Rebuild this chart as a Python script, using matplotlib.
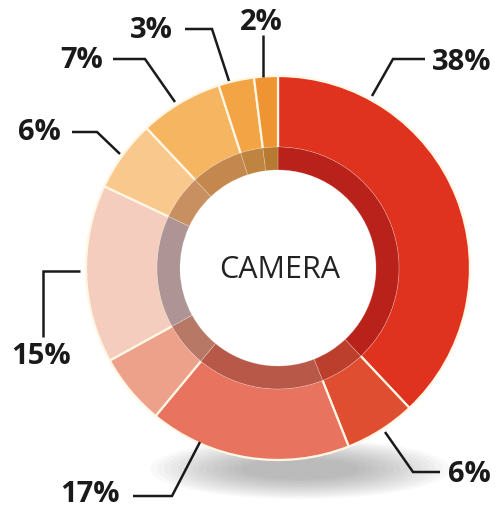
import matplotlib
matplotlib.use("Agg")
import matplotlib.pyplot as plt
from matplotlib.patches import Ellipse

# ---- data ----
labels = ["38%", "6%", "17%", "", "15%", "6%", "7%", "3%", "2%"]
values = [38, 6, 17, 6, 15, 6, 7, 3, 2]
outer_colors = ["#E0331F", "#E04E32", "#E8735E", "#EDA08A", "#F4CDBE",
                "#F9C88C", "#F6B560", "#F3A545", "#EF9433"]
inner_colors = ["#B8221A", "#BC3E2C", "#B85848", "#B87866", "#AE9494",
                "#C89060", "#C4884E", "#BE8440", "#B87A30"]
center_text = "CAMERA"

# label text positions (pixel coords) and leader-line paths
label_pos = [(432, 62), (448, 475), (60, 495), None,
             (11, 357), (18, 133), (60, 60), (130, 30), (240, 22)]
leaders = [
    [(425, 60), (393, 60), (372, 97)],
    [(440, 473), (413, 473), (385, 433)],
    [(133, 497), (172, 497), (200, 443)],
    None,
    [(80, 272), (43, 272), (43, 338)],
    [(72, 133), (97, 133), (120, 155)],
    [(113, 60), (145, 60), (175, 103)],
    [(185, 30), (212, 30), (229, 82)],
    [(263, 36), (263, 36), (263, 78)],
]

W, H = 500, 510
fig = plt.figure(figsize=(W / 100, H / 100), dpi=100)
ax = fig.add_axes([0, 0, 1, 1])


def Y(y):
    return H - y


cx, cy = 278, Y(269)

# shadow beneath the ring
for i in range(14):
    ax.add_patch(Ellipse((300, Y(470)), 300 - i * 14, 60 - i * 3,
                         facecolor="#606060", edgecolor="none",
                         alpha=0.035, zorder=0))

ax.pie(values, radius=192, center=(cx, cy), startangle=90, counterclock=False,
       colors=outer_colors, frame=True,
       wedgeprops=dict(width=72, edgecolor="#FFF6E4", linewidth=1.6))
ax.pie(values, radius=121, center=(cx, cy), startangle=90, counterclock=False,
       colors=inner_colors, frame=True,
       wedgeprops=dict(width=23, edgecolor=(1, 1, 1, 0.25), linewidth=0.6))

ax.set_xlim(0, W)
ax.set_ylim(0, H)
ax.set_aspect("equal")
ax.axis("off")

ax.text(cx + 2, cy - 1, center_text, ha="center", va="center", fontsize=22,
        family="Open Sans", color="#222222")

for lab, pos, path in zip(labels, label_pos, leaders):
    if not lab:
        continue
    x, y = pos
    ax.text(x, Y(y), lab, ha="left", va="center", fontsize=21,
            fontweight="bold", family="Open Sans", color="#1a1a1a")
    xs = [p[0] for p in path]
    ys = [Y(p[1]) for p in path]
    ax.plot(xs, ys, color="#1a1a1a", lw=1.8, solid_capstyle="butt",
            solid_joinstyle="miter")

fig.savefig("out.png", dpi=100)
